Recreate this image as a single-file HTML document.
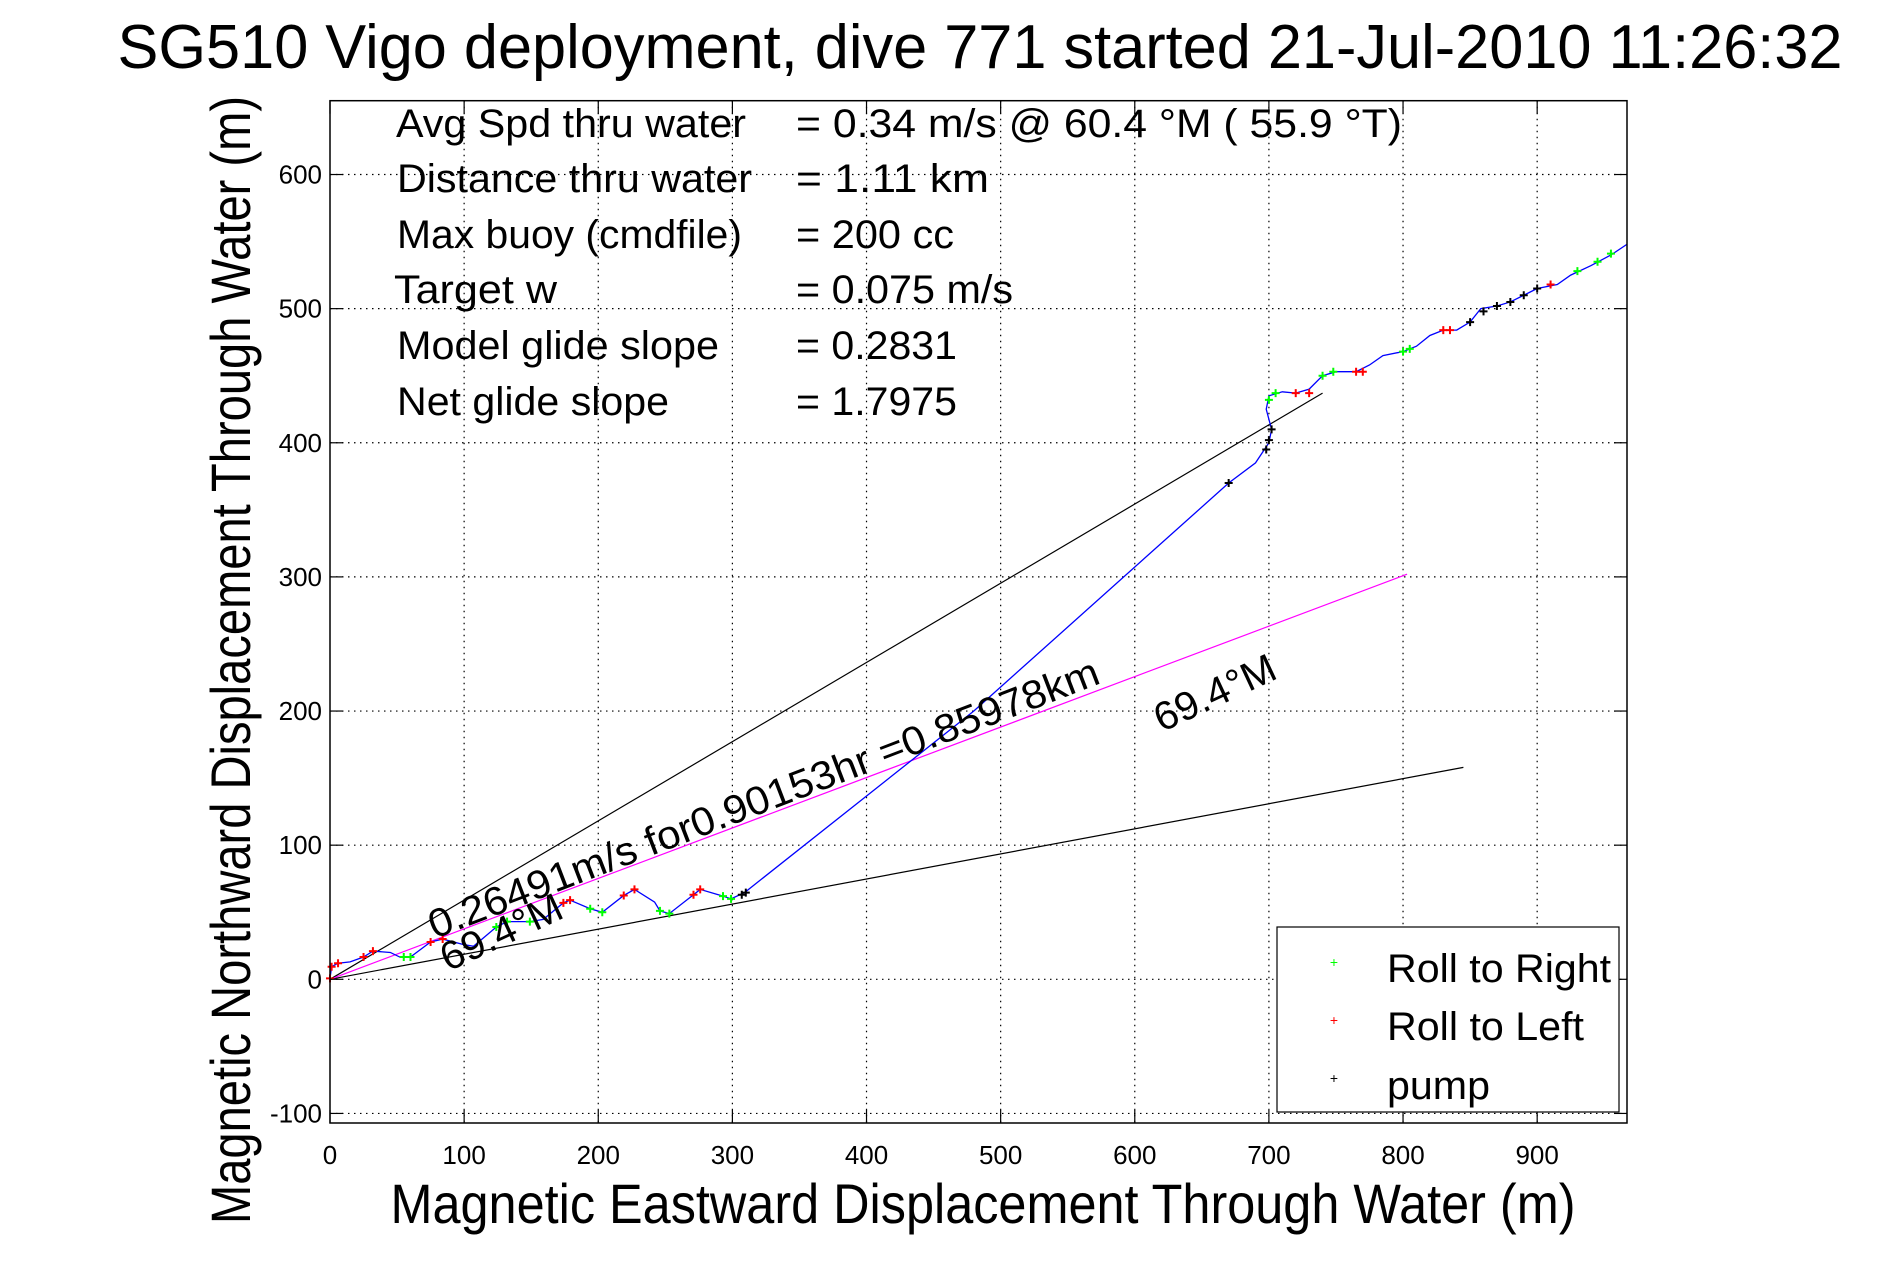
<!DOCTYPE html>
<html><head><meta charset="utf-8"><style>
html,body{margin:0;padding:0;background:#fff;}
svg{display:block;font-family:"Liberation Sans",Arial,sans-serif;}
</style></head><body>
<svg id="chart" width="1891" height="1262" viewBox="0 0 1891 1262" xmlns="http://www.w3.org/2000/svg">
<rect width="1891" height="1262" fill="#fff"/>
<text x="980" y="68" font-size="62" text-anchor="middle" textLength="1725" lengthAdjust="spacingAndGlyphs">SG510 Vigo deployment, dive 771 started 21-Jul-2010 11:26:32</text>
<g id="grid"></g>
<g id="marks"></g>
<rect x="330" y="100.7" width="1297" height="1022.3" fill="none" stroke="#000" stroke-width="1.5"/>
<g id="ticks"></g>
<text transform="translate(250,660) rotate(-90)" font-size="56" text-anchor="middle" textLength="1128" lengthAdjust="spacingAndGlyphs">Magnetic Northward Displacement Through Water (m)</text>
<text x="983" y="1223" font-size="56" text-anchor="middle" textLength="1185" lengthAdjust="spacingAndGlyphs">Magnetic Eastward Displacement Through Water (m)</text>
<g font-size="40">
<text x="396" y="137" textLength="350" lengthAdjust="spacingAndGlyphs">Avg Spd thru water</text>
<text x="796" y="137" textLength="606" lengthAdjust="spacingAndGlyphs">=  0.34 m/s @  60.4 °M ( 55.9 °T)</text>
<text x="397" y="192" textLength="355" lengthAdjust="spacingAndGlyphs">Distance thru water</text>
<text x="796" y="192" textLength="193" lengthAdjust="spacingAndGlyphs">=  1.11 km</text>
<text x="397" y="248" textLength="345" lengthAdjust="spacingAndGlyphs">Max buoy (cmdfile)</text>
<text x="796" y="248" textLength="158" lengthAdjust="spacingAndGlyphs">= 200 cc</text>
<text x="394" y="303" textLength="163" lengthAdjust="spacingAndGlyphs">Target w</text>
<text x="796" y="303" textLength="217" lengthAdjust="spacingAndGlyphs">= 0.075 m/s</text>
<text x="397" y="359" textLength="322" lengthAdjust="spacingAndGlyphs">Model glide slope</text>
<text x="796" y="359" textLength="161" lengthAdjust="spacingAndGlyphs">= 0.2831</text>
<text x="397" y="415" textLength="272" lengthAdjust="spacingAndGlyphs">Net glide slope</text>
<text x="796" y="415" textLength="161" lengthAdjust="spacingAndGlyphs">= 1.7975</text>
</g>
<g>
<rect x="1277" y="927" width="342" height="185" fill="#fff" stroke="#000" stroke-width="1.2"/>
<g><text x="1334" y="967" font-size="14" fill="#0f0" text-anchor="middle">+</text><text x="1387" y="982" font-size="40" textLength="224" lengthAdjust="spacingAndGlyphs">Roll to Right</text></g>
<g><text x="1334" y="1025" font-size="14" fill="#f00" text-anchor="middle">+</text><text x="1387" y="1040" font-size="40" textLength="197" lengthAdjust="spacingAndGlyphs">Roll to Left</text></g>
<g><text x="1334" y="1083" font-size="14" fill="#000" text-anchor="middle">+</text><text x="1387" y="1099" font-size="40" textLength="103" lengthAdjust="spacingAndGlyphs">pump</text></g>
</g>
</svg>
<script>
const xTicks=[0,100,200,300,400,500,600,700,800,900];
const yTicks=[-100,0,100,200,300,400,500,600];
const trackX=[0,1.2,6,15,25,32,45,52,60,75,84,99,107,124,132,149,159,174,179,194,203,219,227,242,246,253,271,276,293,299,309,480,670,690,700,702,698,700,710,720,730,740,750,765,775,785,800,810,820,830,840,850,858,870,880,890,900,915,925,940,955,967];
const trackY=[0.7,9.4,12,13,16.6,21,20,16.6,16.6,27.8,30,26,24.6,39,43,43,44.7,57,59,52.6,50,62.5,67,57.6,51,49,63,67,62,60,64.6,200,370,385,400,410,425,435,438,437,440,450,453,453,458,465,468,472,480,484,484,490,500,502,505,510,515,518,525,532,540,548];
const rightX=[55,60,124,132,149,194,203,246,253,293,299,700,705,740,748,800,805,930,945,955];
const rightY=[16.6,16.6,39,43,43,52.6,50,51,49,62,60,432,437,450,453,468,470,528,535,541];
const leftX=[0,1.2,6,25,32,75,84,174,179,219,227,271,276,720,730,765,770,830,835,910];
const leftY=[0.7,9.4,12,16.6,21,27.8,30,57,59,62.5,67,63,67,437,437,453,453,484,484,518];
const pumpX=[307,310,670,698,700,702,850,860,870,880,890,900];
const pumpY=[63,64.6,370,395,402,410,490,498,502,505,510,515];
const upperLineEnd=[740,437];
const lowerLineEnd=[845,158];
const headingLineEnd=[803,302];
const NS='http://www.w3.org/2000/svg';
const X0=330,Y0=979.3,S=1.3413;
function sx(v){return X0+v*S;}
function sy(v){return Y0-v*S;}
function mk(tag,attrs,parent){const e=document.createElementNS(NS,tag);for(const k in attrs)e.setAttribute(k,attrs[k]);parent.appendChild(e);return e;}
const grid=document.getElementById('grid'),ticks=document.getElementById('ticks'),marks=document.getElementById('marks');
const L=330,R=1627,T=100.7,B=1123;
xTicks.forEach(v=>{const x=sx(v);
 if(v>0){const g=mk('line',{x1:x,x2:x,y1:T,y2:B,stroke:'#000','stroke-width':1.2,'stroke-dasharray':'1.5 4.5'},grid);
 
 }
 const t1=mk('line',{x1:x,x2:x,y1:B,y2:B-13,stroke:'#000','stroke-width':1.2},ticks);
 
 
 const t2=mk('line',{x1:x,x2:x,y1:T,y2:T+13,stroke:'#000','stroke-width':1.2},ticks);
 
 
 const lb=mk('text',{x:x,y:1164,'font-size':26,'text-anchor':'middle'},ticks);lb.textContent=v;
 
 
});
yTicks.forEach(v=>{const y=sy(v);
 const g=mk('line',{x1:L,x2:R,y1:y,y2:y,stroke:'#000','stroke-width':1.2,'stroke-dasharray':'1.5 4.5'},grid);
 
 
 const t1=mk('line',{x1:L,x2:L+13,y1:y,y2:y,stroke:'#000','stroke-width':1.2},ticks);
 
 
 const t2=mk('line',{x1:R,x2:R-13,y1:y,y2:y,stroke:'#000','stroke-width':1.2},ticks);
 
 
 const lb=mk('text',{x:322,y:y+9,'font-size':26,'text-anchor':'end'},ticks);lb.textContent=v;
 
 
});
const lu=mk('line',{x1:sx(0),y1:sy(0),x2:sx(upperLineEnd[0]),y2:sy(upperLineEnd[1]),stroke:'#000','stroke-width':1.2},marks);


const ll=mk('line',{x1:sx(0),y1:sy(0),x2:sx(lowerLineEnd[0]),y2:sy(lowerLineEnd[1]),stroke:'#000','stroke-width':1.2},marks);


const lh=mk('line',{x1:sx(0),y1:sy(0),x2:sx(headingLineEnd[0]),y2:sy(headingLineEnd[1]),stroke:'#f0f','stroke-width':1.2},marks);


const tr=mk('polyline',{points:trackX.map((v,i)=>sx(v)+','+sy(trackY[i])).join(' '),fill:'none',stroke:'#00f','stroke-width':1.3},marks);


function cross(xs,ys,col,name){xs.forEach((v,i)=>{const x=sx(v),y=sy(ys[i]);
 const p=mk('path',{d:`M${x-4},${y}H${x+4}M${x},${y-4}V${y+4}`,stroke:col,'stroke-width':2},marks);
 
 });}
cross(rightX,rightY,'#0f0','roll-right-marker');
cross(leftX,leftY,'#f00','roll-left-marker');
cross(pumpX,pumpY,'#000','pump-marker');
function rlabel(dx,dy,ang,txt,len,name){const t=mk('text',{transform:`translate(${sx(dx)},${sy(dy)}) rotate(${-ang})`,'font-size':40,textLength:len,lengthAdjust:'spacingAndGlyphs'},marks);t.textContent=txt;
 
 }
rlabel(78,30,21,'0.26491m/s for0.90153hr =0.85978km',715,'speed-label');
rlabel(88,5.5,25,'69.4°M',130,'heading-label-lower');
rlabel(620,184,25,'69.4°M',130,'heading-label-upper');
</script>
</body></html>
